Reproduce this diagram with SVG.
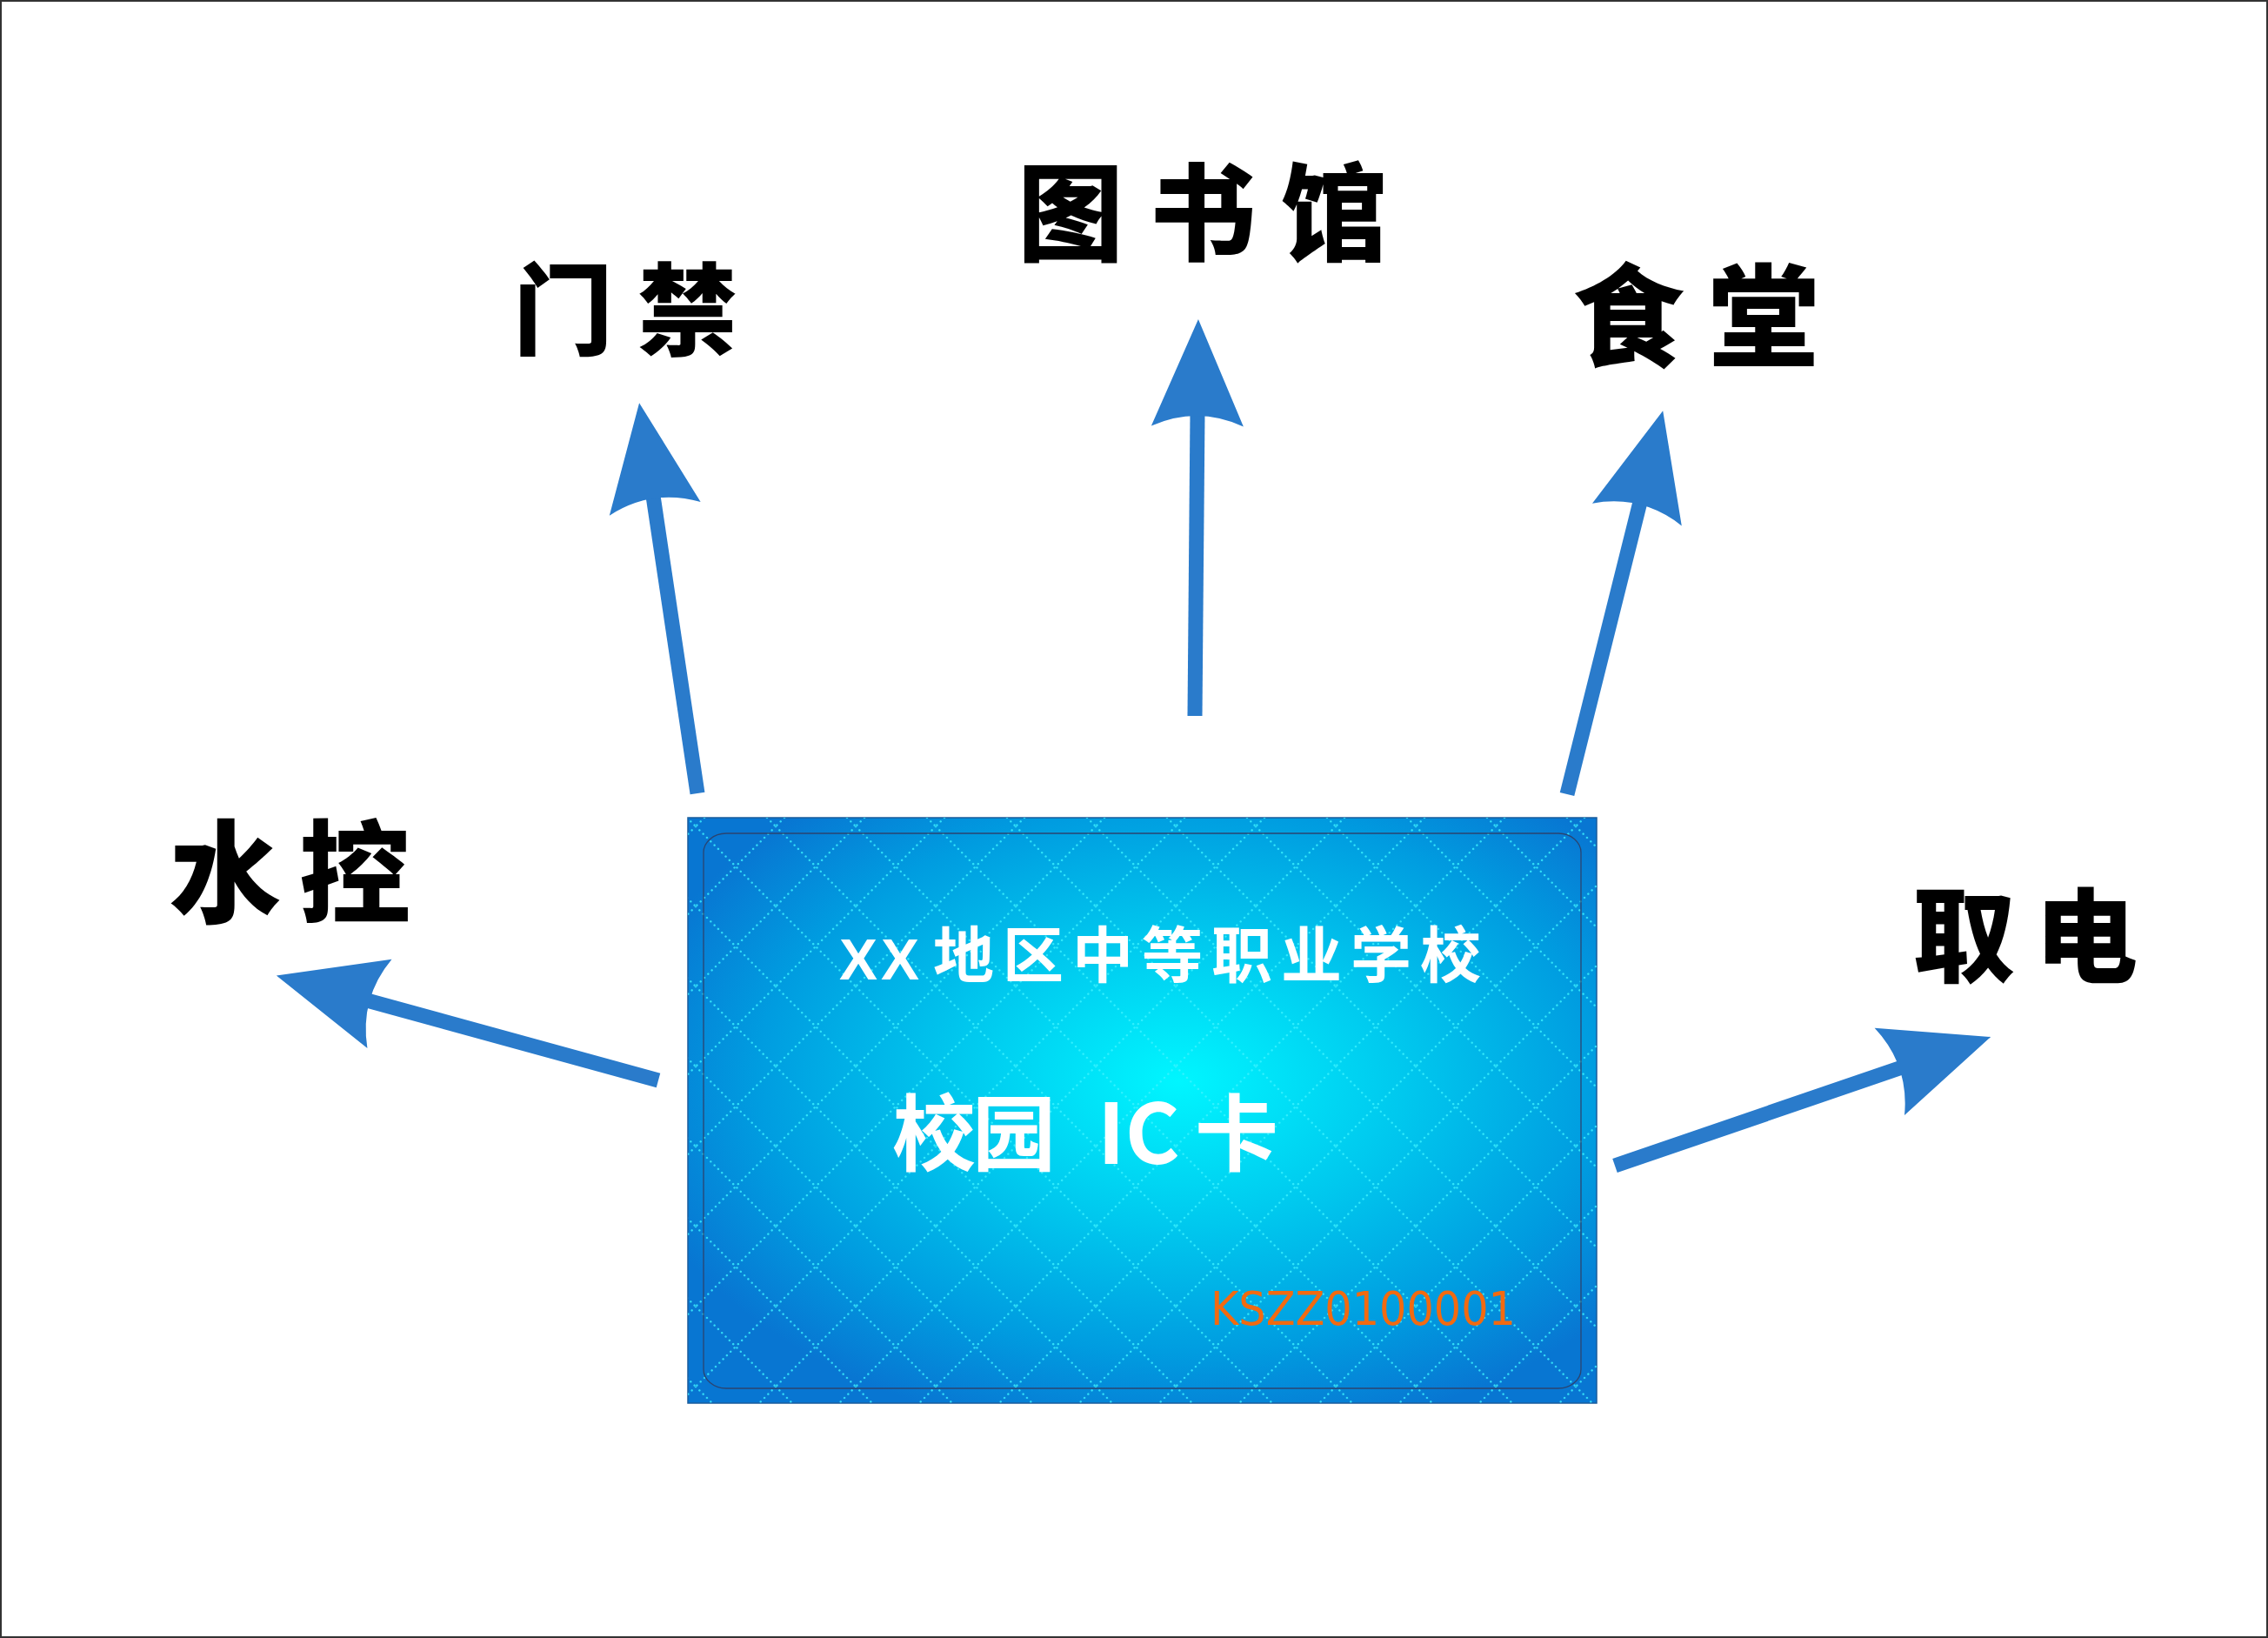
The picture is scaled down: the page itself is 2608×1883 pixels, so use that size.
<svg xmlns="http://www.w3.org/2000/svg" width="2608" height="1883" viewBox="0 0 2608 1883">
<defs>
<style>
.lbl{font-family:"Noto Sans CJK SC","Noto Sans CJK JP",sans-serif;font-weight:900;fill:#000;}
.conn{stroke:#2A7BCB;stroke-width:17;fill:none;marker-end:url(#ah);}
</style>
<marker id="ah" markerUnits="userSpaceOnUse" markerWidth="125" markerHeight="110" viewBox="0 -55 125 110" refX="15" refY="0" orient="auto" overflow="visible">
<path d="M123,0 L0,-53 Q24,0 0,53 Z" fill="#2A7BCB"/>
</marker>
<radialGradient id="cardGrad" cx="0.54" cy="0.45" r="0.62">
<stop offset="0" stop-color="#00F6FF"/>
<stop offset="0.4" stop-color="#00C8EE"/>
<stop offset="0.75" stop-color="#009CE0"/>
<stop offset="1" stop-color="#0876D2"/>
</radialGradient>
<pattern id="grid" patternUnits="userSpaceOnUse" x="800" y="950" width="92" height="92">
<path d="M0,0 L92,92 M92,0 L0,92" stroke="#3CF2FF" stroke-width="2.4" stroke-linecap="round" stroke-dasharray="0.1 6" fill="none" opacity="0.8"/>
</pattern>
</defs>
<rect x="0" y="0" width="2608" height="1883" fill="#fff"/>
<rect x="1" y="1" width="2606" height="1881" fill="none" stroke="#333" stroke-width="2"/>

<g id="connectors">
<path class="conn" d="M1374,823 L1377,475"/>
<path class="conn" d="M802,912 L751,570"/>
<path class="conn" d="M1802,913 L1886,577"/>
<path class="conn" d="M757,1242 L422,1150"/>
<path class="conn" d="M1857,1340 L2187,1227"/>
</g>

<g id="node-card">
<rect x="791" y="940" width="1045" height="673" fill="url(#cardGrad)" stroke="#1A5C9C" stroke-width="1.5"/>
<rect x="791" y="940" width="1045" height="673" fill="url(#grid)"/>
<rect x="809" y="958" width="1009" height="638" rx="26" ry="22" fill="none" stroke="#2B4470" stroke-width="1.3"/>
<text x="965" y="1126" font-family="'Liberation Sans',Arial,sans-serif" font-weight="700" font-size="66" letter-spacing="4" fill="#fff">XX</text>
<text y="1124" font-family="'Noto Sans CJK SC','Noto Sans CJK JP',sans-serif" font-weight="700" font-size="70" fill="#fff"><tspan x="1073 1153 1233 1313 1393 1473 1553 1633">地区中等职业学校</tspan></text>
<text y="1338" font-family="'Noto Sans CJK SC','Noto Sans CJK JP',sans-serif" font-weight="700" font-size="96" fill="#fff"><tspan x="1026 1118">校园</tspan><tspan x="1262">IC</tspan><tspan x="1374">卡</tspan></text>
<text x="1392" y="1523" font-family="'DejaVu Sans',sans-serif" font-size="54" fill="#F26A10" textLength="351" lengthAdjust="spacingAndGlyphs">KSZZ0100001</text>
</g>

<g id="node-menjin"><text class="lbl" y="399" font-size="115"><tspan x="590 733">门禁</tspan></text></g>
<g id="node-tushuguan"><text class="lbl" y="290" font-size="122"><tspan x="1170 1322 1473">图书馆</tspan></text></g>
<g id="node-shitang"><text class="lbl" y="412" font-size="128"><tspan x="1808 1964">食堂</tspan></text></g>
<g id="node-shuikong"><text class="lbl" y="1051" font-size="128"><tspan x="195 344">水控</tspan></text></g>
<g id="node-qudian"><text class="lbl" y="1120" font-size="118"><tspan x="2199 2340">取电</tspan></text></g>
</svg>
